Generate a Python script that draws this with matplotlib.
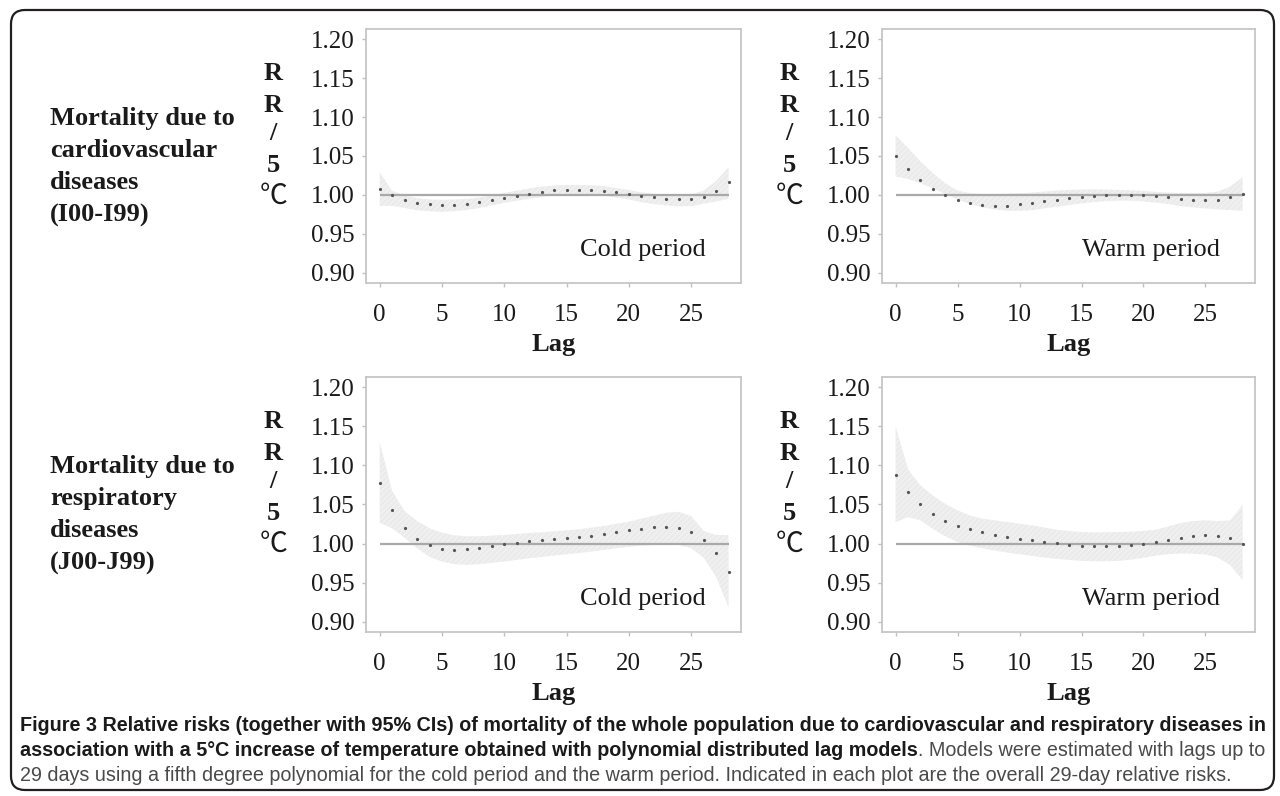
import matplotlib
matplotlib.use('Agg')
import matplotlib.pyplot as plt
from matplotlib.patches import FancyBboxPatch
from matplotlib import font_manager

W, H = 1280, 796

# lag days 0..28
lags = list(range(29))

# cardiovascular, cold period
cv_cold_rr = [1.0075, 0.9995, 0.994, 0.990, 0.988, 0.9867, 0.987, 0.9888, 0.991, 0.9937,
              0.996, 0.9988, 1.0017, 1.004, 1.006, 1.007, 1.007, 1.007, 1.0054, 1.0038,
              1.0012, 0.999, 0.997, 0.9954, 0.9946, 0.9954, 0.998, 1.005, 1.016]
cv_cold_hi = [1.029, 1.0054, 0.9992, 0.9958, 0.9942, 0.9937, 0.9942, 0.995, 0.9967, 0.9992,
              1.0025, 1.0054, 1.0083, 1.0108, 1.0121, 1.0129, 1.0129, 1.0125, 1.0113, 1.0088,
              1.0063, 1.0033, 1.0013, 1.0, 0.9996, 1.0008, 1.0054, 1.0179, 1.0354]
cv_cold_lo = [0.986, 0.986, 0.9833, 0.9804, 0.9792, 0.9783, 0.9792, 0.9808, 0.9833, 0.9867,
              0.990, 0.9925, 0.995, 0.9975, 1.0, 1.0008, 1.0008, 1.0, 0.9992, 0.9967,
              0.9942, 0.9908, 0.9883, 0.9867, 0.9854, 0.9858, 0.9888, 0.9917, 0.995]

# cardiovascular, warm period
cv_warm_rr = [1.0496, 1.0328, 1.019, 1.0082, 1.000, 0.9935, 0.990, 0.9875, 0.9862, 0.9862,
              0.9879, 0.9897, 0.9922, 0.9935, 0.9957, 0.9978, 0.9987, 0.9996, 1.0004, 1.0004,
              0.9996, 0.9983, 0.997, 0.9953, 0.994, 0.9935, 0.994, 0.997, 1.0017]
cv_warm_hi = [1.0763, 1.0603, 1.0431, 1.028, 1.0151, 1.0056, 1.0022, 1.0013, 1.0013, 1.0017,
              1.0022, 1.003, 1.0043, 1.0056, 1.0065, 1.0069, 1.0073, 1.0069, 1.0065, 1.006,
              1.0052, 1.0039, 1.003, 1.0026, 1.0026, 1.0026, 1.0043, 1.0108, 1.0228]
cv_warm_lo = [1.0237, 1.0207, 1.0151, 1.0086, 1.0013, 0.9944, 0.9884, 0.9841, 0.9815, 0.9797,
              0.9797, 0.9806, 0.9828, 0.9849, 0.9871, 0.9892, 0.9909, 0.9922, 0.9927, 0.9927,
              0.9918, 0.9901, 0.9884, 0.9858, 0.9841, 0.9828, 0.9815, 0.9806, 0.9797]

# respiratory, cold period
rs_cold_rr = [1.0772, 1.0428, 1.0199, 1.0059, 0.9979, 0.9936, 0.9924, 0.9932, 0.9949, 0.997,
              0.9992, 1.0013, 1.003, 1.0047, 1.0059, 1.0072, 1.0085, 1.0102, 1.0123, 1.0144,
              1.017, 1.0191, 1.0208, 1.0216, 1.0199, 1.0148, 1.0047, 0.9886, 0.964]
rs_cold_hi = [1.13, 1.067, 1.0415, 1.0288, 1.0195, 1.014, 1.0106, 1.0093, 1.0093, 1.0102,
              1.011, 1.0123, 1.0136, 1.0144, 1.0157, 1.017, 1.0182, 1.0204, 1.0225, 1.0254,
              1.028, 1.0318, 1.0356, 1.0394, 1.0407, 1.0352, 1.0161, 1.011, 1.011]
rs_cold_lo = [1.0267, 1.0195, 1.0076, 0.9941, 0.983, 0.9771, 0.9737, 0.9729, 0.9737, 0.9754,
              0.9771, 0.9792, 0.9813, 0.983, 0.9847, 0.9864, 0.9881, 0.9898, 0.9919, 0.9941,
              0.9958, 0.9975, 0.9983, 0.9992, 0.9983, 0.9941, 0.9822, 0.9576, 0.9186]

# respiratory, warm period
rs_warm_rr = [1.0878, 1.0661, 1.0505, 1.0382, 1.0293, 1.0229, 1.0182, 1.0144, 1.011, 1.0085,
              1.0064, 1.0042, 1.0021, 1.0004, 0.9987, 0.9975, 0.997, 0.997, 0.9975, 0.9987,
              1.0, 1.0021, 1.0051, 1.0076, 1.0098, 1.011, 1.0102, 1.0072, 1.0]
rs_warm_hi = [1.150, 1.095, 1.0742, 1.0615, 1.0509, 1.0424, 1.036, 1.0318, 1.0297, 1.0276,
              1.0254, 1.0233, 1.0204, 1.0178, 1.0161, 1.0148, 1.0144, 1.0144, 1.0148, 1.0153,
              1.0161, 1.0178, 1.022, 1.0263, 1.0288, 1.0297, 1.0288, 1.0297, 1.0496]
rs_warm_lo = [1.0276, 1.0339, 1.0297, 1.0191, 1.0093, 1.0021, 0.9975, 0.9941, 0.9911, 0.9886,
              0.9864, 0.9843, 0.9822, 0.9805, 0.9792, 0.978, 0.9775, 0.9775, 0.978, 0.9796,
              0.9818, 0.9847, 0.9864, 0.9873, 0.9873, 0.986, 0.9822, 0.9725, 0.9534]

yticks = [0.90, 0.95, 1.00, 1.05, 1.10, 1.15, 1.20]
xticks = [0, 5, 10, 15, 20, 25]
row_labels = ['Mortality due to\ncardiovascular\ndiseases\n(I00-I99)',
              'Mortality due to\nrespiratory\ndiseases\n(J00-J99)']
period_labels = ['Cold period', 'Warm period']

plt.rcParams['font.family'] = ['Liberation Serif', 'Noto Sans CJK JP']
plt.rcParams['hatch.linewidth'] = 0.6

names = {f.name for f in font_manager.fontManager.ttflist}
cap_font = 'Liberation Sans Narrow' if 'Liberation Sans Narrow' in names else 'Liberation Sans'


def px_rect(left, top, right, bottom):
    return [left / W, 1 - bottom / H, (right - left) / W, (bottom - top) / H]


fig = plt.figure(figsize=(12.8, 7.96), dpi=100)

# outer frame
bg = fig.add_axes([0, 0, 1, 1])
bg.set_xlim(0, W)
bg.set_ylim(H, 0)
bg.axis('off')
bg.add_patch(FancyBboxPatch((11, 10), 1263, 780, boxstyle='round,pad=0,rounding_size=14',
                            fc='none', ec='#231f20', lw=1.6))

panels = [
    ((366, 29, 741, 283), cv_cold_rr, cv_cold_lo, cv_cold_hi, period_labels[0]),
    ((882, 29, 1255, 283), cv_warm_rr, cv_warm_lo, cv_warm_hi, period_labels[1]),
    ((366, 377, 741, 632), rs_cold_rr, rs_cold_lo, rs_cold_hi, period_labels[0]),
    ((882, 377, 1255, 632), rs_warm_rr, rs_warm_lo, rs_warm_hi, period_labels[1]),
]

ylab_chars = ['R', 'R', '/', '5', '\u2103']
ylab_offsets = [44, 76, 105, 137, 167]

for box, rr, lo, hi, period in panels:
    ax = fig.add_axes(px_rect(*box))
    ax.fill_between(lags, lo, hi, facecolor='#ebebeb', edgecolor='none', zorder=1)
    ax.fill_between(lags, lo, hi, facecolor='none', edgecolor='#f6f6f6', linewidth=0,
                    hatch='//////', zorder=1)
    ax.hlines(1.0, lags[0], lags[-1], color='#a9a9a9', lw=1.6, zorder=2)
    ax.plot(lags, rr, 'o', ms=2.3, color='#555555', mec='none', zorder=3)

    ax.set_xlim(-1.1, 29.0)
    ax.set_ylim(0.887, 1.213)
    ax.set_xticks(xticks)
    ax.set_yticks(yticks)
    ax.set_yticklabels(['%.2f' % v for v in yticks])
    for s in ax.spines.values():
        s.set_color('#c6c6c6')
        s.set_linewidth(1.3)
    ax.tick_params(length=3, width=1, color='#c0c0c0', labelsize=18, labelcolor='#1a1a1a')
    ax.tick_params(axis='x', pad=12)
    ax.tick_params(axis='y', pad=5)
    ax.set_xlabel('Lag', fontsize=19, fontweight='bold', color='#1a1a1a', labelpad=5)
    ax.text(0.905, 0.13, period, transform=ax.transAxes, ha='right', va='center',
            fontsize=19, color='#1a1a1a')

    left, top = box[0], box[1]
    for ch, off in zip(ylab_chars, ylab_offsets):
        if ch == '\u2103':
            fig.text((left - 92) / W, 1 - (top + off) / H, ch, ha='center', va='center',
                     fontsize=20, family=['Noto Sans CJK JP'], color='#1a1a1a')
        else:
            fig.text((left - 93) / W, 1 - (top + off) / H, ch, ha='center', va='center',
                     fontsize=19, fontweight='bold', color='#1a1a1a')

# row titles
for label, yc in zip(row_labels, [167, 515]):
    fig.text(50 / W, 1 - yc / H, label, ha='left', va='center', fontsize=19,
             fontweight='bold', linespacing=1.52, color='#1a1a1a')

# caption with bold and regular runs
cap_lines = [
    [('Figure 3 Relative risks (together with 95% CIs) of mortality of the whole population '
      'due to cardiovascular and respiratory diseases in', True)],
    [('association with a 5\u00b0C increase of temperature obtained with polynomial '
      'distributed lag models', True),
     ('. Models were estimated with lags up to', False)],
    [('29 days using a fifth degree polynomial for the cold period and the warm period. '
      'Indicated in each plot are the overall 29-day relative risks.', False)],
]
cap_baselines = [731, 756, 781]

renderer = fig.canvas.get_renderer()
probe = fig.text(0, 0, cap_lines[0][0][0], family=cap_font, fontweight='bold', fontsize=14)
pw = probe.get_window_extent(renderer=renderer).width
probe.remove()
cap_size = 14 * 1246 / pw

for runs, yb in zip(cap_lines, cap_baselines):
    x = 20
    for txt, bold in runs:
        t = fig.text(x / W, 1 - yb / H, txt, ha='left', va='baseline', family=cap_font,
                     fontweight='bold' if bold else 'normal', fontsize=cap_size,
                     color='#1a1a1a' if bold else '#4a4a4a')
        x += t.get_window_extent(renderer=renderer).width

fig.savefig('out.png', dpi=100)
